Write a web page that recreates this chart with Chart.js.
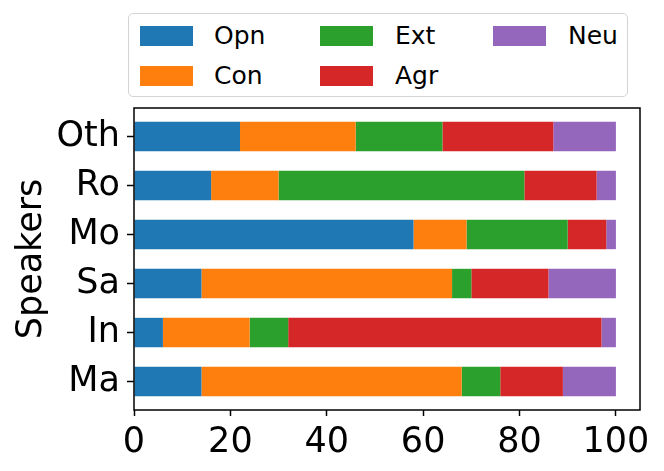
<!DOCTYPE html>
<html>
<head>
<meta charset="utf-8">
<script src="https://cdn.jsdelivr.net/npm/chart.js@4.4.1/dist/chart.umd.min.js"></script>
<style>
  html, body { margin: 0; padding: 0; background: #fff; }
  #wrap { position: relative; width: 664px; height: 471px; }
  #legend {
    position: absolute; left: 128px; top: 13px; width: 498px; height: 82px;
    border: 1px solid #d4d4d4; border-radius: 5px; background: #fff;
    font-family: 'DejaVu Sans', sans-serif; font-size: 25px; color: #000;
  }
  .sw { position: absolute; width: 53px; height: 20px; }
  .lb { position: absolute; line-height: 28px; }
</style>
</head>
<body>
<div id="wrap">
  <canvas id="chart"></canvas>
  <div id="legend"></div>
</div>
<script>
// ─────────────────────────────────────────────
//  Data
// ─────────────────────────────────────────────
const speakers = ['Oth', 'Ro', 'Mo', 'Sa', 'In', 'Ma'];
const opn = [22, 16, 58, 14,  6, 14];
const con = [24, 14, 11, 52, 18, 54];
const ext = [18, 51, 21,  4,  8,  8];
const agr = [23, 15,  8, 16, 65, 13];
const neu = [13,  4,  2, 14,  3, 11];
const xTicks = [0, 20, 40, 60, 80, 100];

const series = [
  { label: 'Opn', data: opn, color: '#1f77b4' },
  { label: 'Con', data: con, color: '#ff7f0e' },
  { label: 'Ext', data: ext, color: '#2ca02c' },
  { label: 'Agr', data: agr, color: '#d62728' },
  { label: 'Neu', data: neu, color: '#9467bd' },
];

const FONT = "'DejaVu Sans', sans-serif";

// frame around the plot area (matplotlib style spines)
const framePlugin = {
  id: 'frame',
  afterDraw(chart) {
    const { ctx, chartArea: a } = chart;
    ctx.save();
    ctx.strokeStyle = '#000';
    ctx.lineWidth = 1.5;
    ctx.strokeRect(a.left, a.top, a.right - a.left, a.bottom - a.top);
    ctx.restore();
  },
};

new Chart(document.getElementById('chart'), {
  type: 'bar',
  data: {
    datasets: series.map(s => ({
      label: s.label,
      data: s.data.map((v, i) => ({ x: v, y: i })),
      backgroundColor: s.color,
      borderWidth: 0,
      barPercentage: 0.6,
      categoryPercentage: 1,
    })),
  },
  options: {
    indexAxis: 'y',
    responsive: true,
    maintainAspectRatio: false,
    animation: false,
    layout: { padding: { top: 108, right: 24, left: 0, bottom: 0 } },
    plugins: { legend: { display: false }, tooltip: { enabled: false } },
    scales: {
      x: {
        type: 'linear',
        stacked: true,
        min: 0,
        max: 105,
        afterBuildTicks: axis => { axis.ticks = xTicks.map(v => ({ value: v })); },
        afterFit: axis => { axis.height = 61; },
        border: { display: false },
        grid: { drawOnChartArea: false, drawTicks: true, tickLength: 6, tickWidth: 1.5, tickColor: '#000' },
        ticks: { color: '#000', font: { family: FONT, size: 35 }, padding: 6, maxRotation: 0 },
      },
      y: {
        type: 'linear',
        stacked: true,
        reverse: true,
        offset: false,
        min: -0.58,
        max: speakers.length - 1 + 0.58,
        afterBuildTicks: axis => { axis.ticks = speakers.map((_, i) => ({ value: i })); },
        afterFit: axis => { axis.width = 134; },
        border: { display: false },
        grid: { offset: false, drawOnChartArea: false, drawTicks: true, tickLength: 7, tickWidth: 1.5, tickColor: '#000' },
        ticks: {
          color: '#000',
          font: { family: FONT, size: 35 },
          padding: 7,
          callback: v => speakers[v],
        },
        title: {
          display: true,
          text: 'Speakers',
          color: '#000',
          font: { family: FONT, size: 35 },
          padding: { top: 11, bottom: 0 },
        },
      },
    },
  },
  plugins: [framePlugin],
});

// matplotlib-like legend: 3 columns, filled column by column
const legend = document.getElementById('legend');
const colSwatch = [11, 191, 364];
const colText   = [85, 266, 439];
const rowMid    = [22, 62];
series.forEach((s, i) => {
  const col = Math.floor(i / 2), row = i % 2;
  const sw = document.createElement('div');
  sw.className = 'sw';
  sw.style.background = s.color;
  sw.style.left = colSwatch[col] + 'px';
  sw.style.top  = (rowMid[row] - 10) + 'px';
  legend.appendChild(sw);
  const lb = document.createElement('div');
  lb.className = 'lb';
  lb.textContent = s.label;
  lb.style.left = colText[col] + 'px';
  lb.style.top  = (rowMid[row] - 14) + 'px';
  legend.appendChild(lb);
});
</script>
</body>
</html>
